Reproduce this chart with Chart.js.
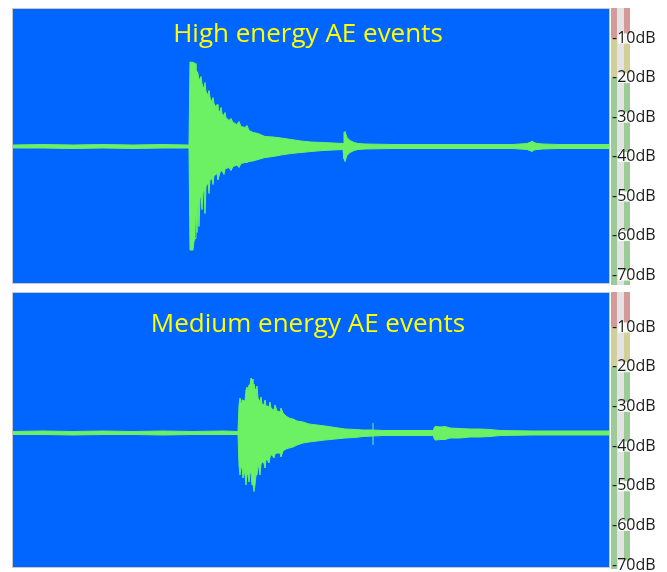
<!DOCTYPE html>
<html>
<head>
<meta charset="utf-8">
<script src="https://cdn.jsdelivr.net/npm/chart.js@4.4.0/dist/chart.umd.min.js"></script>
<style>
  html, body { margin: 0; padding: 0; background: #fff; }
  #wrap { position: relative; width: 667px; height: 572px; }
  #wrap canvas { position: absolute; left: 0; }
  #high { top: 0; }
  #medium { top: 288px; }
</style>
</head>
<body>
<div id="wrap">
  <canvas id="high" width="667" height="288"></canvas>
  <canvas id="medium" width="667" height="284"></canvas>
</div>
<script>
// 눈금 (dB)
const dbTicks = [-10, -20, -30, -40, -50, -60, -70];

// 고에너지 AE 이벤트: 시간(µs) / 포락선 최대값 / 최소값
const highT = [0, 30, 60, 90, 120, 150, 176, 177, 180, 181, 182, 183, 184, 185, 186, 187, 188, 189, 190, 191,
  192, 193, 195, 196, 197, 199, 200, 201, 203, 204, 205, 207, 208, 209, 211, 212, 213, 216, 218, 220,
  224, 226, 228, 232, 234, 236, 240, 245, 252, 260, 268, 278, 288, 298, 310, 320, 330, 331, 332, 334,
  337, 341, 345, 352, 380, 420, 460, 500, 507, 514, 518, 519, 521, 524, 530, 545, 570, 596];
const highMax = [1.5, 2, 1.5, 2, 1.5, 2, 1.5, 84.5, 84, 84, 83, 77, 75, 73, 66, 68, 70, 63, 60, 58,
  64, 55, 51, 56, 49, 44, 49, 43, 39, 42, 36, 35, 39, 33, 31, 34, 29, 26, 28, 24,
  22, 25, 20, 19, 21, 16, 14, 13, 10, 9.5, 8.5, 7, 5.5, 4.5, 4, 3.5, 3, 14, 15, 9,
  6, 4, 3, 2.5, 2, 2, 2, 2, 2.5, 3, 4.5, 5.5, 4, 3, 2.5, 2, 2, 2];
const highMin = [-1.5, -1.5, -2, -1.5, -2, -1.5, -1.5, -103.5, -103.5, -95, -92, -68, -86, -57, -80, -52, -48, -63, -46, -42,
  -67, -40, -36, -47, -34, -32, -38, -29, -28, -27, -33, -26, -25, -24, -28, -23, -22, -21, -24, -20,
  -18.5, -21, -17, -16, -16, -15, -14.5, -13, -11, -10, -8.5, -7, -6, -5, -4, -3.5, -3, -12, -15, -9,
  -6, -4, -3, -2.5, -2, -2, -2, -2, -2.5, -3, -4.5, -5, -3.5, -3, -2.5, -2, -2, -2];

// 중에너지 AE 이벤트
const medT = [0, 30, 60, 90, 120, 150, 180, 210, 225, 226, 227, 228, 229, 230, 231, 232, 233, 234, 235, 236,
  237, 238, 239, 240, 241, 242, 243, 244, 245, 246, 247, 248, 249, 251, 252, 253, 254, 256, 257, 258,
  259, 261, 262, 264, 267, 268, 270, 273, 276, 280, 284, 290, 296, 304, 312, 322, 332, 342, 350, 360,
  370, 400, 420, 422, 428, 432, 437, 447, 457, 467, 477, 487, 520, 560, 596];
const medMax = [1.5, 2, 1.5, 2, 1.5, 2, 1.5, 2, 1.5, 28, 35, 30, 33, 33, 32, 32, 43, 46, 42, 48,
  48, 55, 54, 46, 49, 44, 43, 47, 35, 33, 31, 36, 29, 28, 33, 27, 27, 26, 31, 25,
  24, 23, 28, 22, 21, 25, 20, 17, 15, 14, 12, 11, 9, 8, 7, 5.5, 4, 3.5, 3, 3,
  2.5, 2.5, 2.5, 6.5, 6, 6.5, 5, 4.5, 4, 4, 3.5, 2.5, 2, 2, 2];
const medMin = [-1.5, -1.5, -2, -1.5, -1.5, -2, -1.5, -1.5, -1.5, -32, -42, -33, -35, -45, -36, -42, -52, -40, -42, -49,
  -39, -40, -52, -50, -58.5, -52, -42, -42, -32, -35, -42, -31, -29, -30, -35, -27, -26, -30, -24, -22,
  -22, -25, -21, -20, -20, -24, -18, -16, -15, -14, -12, -10, -9, -8, -7, -6, -5, -4.5, -3.5, -3,
  -2.5, -2.5, -2.5, -7, -6.5, -6.5, -5, -5, -4, -4, -3.5, -2.5, -2, -2, -2];

// 짧은 클릭 신호 (중에너지 패널)
const medClickT = [360, 360];
const medClickV = [10, -12];

const BLUE = '#0066FF';
const GREEN = '#6CF064';

function pairs(t, v) {
  return t.map((x, i) => ({ x: x, y: v[i] }));
}

// 패널 배경, 레벨 미터 줄무늬, 제목
const panelPlugin = {
  id: 'panel',
  beforeDraw(chart) {
    const ctx = chart.ctx;
    const a = chart.chartArea;
    const db = chart.scales.db;
    ctx.save();
    ctx.fillStyle = BLUE;
    ctx.fillRect(a.left, a.top, a.right - a.left, a.bottom - a.top);
    ctx.strokeStyle = '#c8c8c8';
    ctx.lineWidth = 1;
    ctx.strokeRect(a.left - 0.5, a.top - 0.5, a.right - a.left + 1, a.bottom - a.top + 1);

    const top = a.top - 1, bottom = a.bottom + 2;
    ctx.fillStyle = '#e3e3e3';
    ctx.fillRect(a.right + 8, top, 7, bottom - top);
    const yRed = db.getPixelForValue(-10);
    const yYel = db.getPixelForValue(-20);
    [a.right + 2, a.right + 15].forEach(x => {
      ctx.fillStyle = '#d49a9a';
      ctx.fillRect(x, top, 6, yRed - top);
      ctx.fillStyle = '#d3cf98';
      ctx.fillRect(x, yRed, 6, yYel - yRed);
      ctx.fillStyle = '#9ccb98';
      ctx.fillRect(x, yYel, 6, bottom - yYel);
    });
    ctx.restore();
  },
  afterDatasetsDraw(chart, args, opts) {
    const ctx = chart.ctx;
    const a = chart.chartArea;
    ctx.save();
    ctx.fillStyle = '#FFFF00';
    ctx.font = '26px "Open Sans"';
    ctx.textAlign = 'center';
    ctx.textBaseline = 'alphabetic';
    ctx.fillText(opts.text, (a.left + a.right) / 2 - 3, a.top + opts.baseline);
    ctx.restore();
  }
};

function makeChart(id, t, vMax, vMin, extra, o) {
  const datasets = [{
    data: pairs(t, vMax),
    borderColor: GREEN,
    backgroundColor: GREEN,
    borderWidth: 1,
    pointRadius: 0,
    tension: 0,
    fill: '+1'
  }, {
    data: pairs(t, vMin),
    borderColor: GREEN,
    borderWidth: 1,
    pointRadius: 0,
    tension: 0,
    fill: false
  }].concat(extra);

  return new Chart(document.getElementById(id), {
    type: 'line',
    data: { datasets: datasets },
    plugins: [panelPlugin],
    options: {
      responsive: false,
      animation: false,
      events: [],
      layout: { padding: { left: 13, top: o.padTop, bottom: o.padBottom, right: 0 } },
      plugins: {
        legend: { display: false },
        tooltip: { enabled: false },
        panel: { text: o.title, baseline: o.baseline }
      },
      scales: {
        x: { type: 'linear', min: 0, max: 596, display: false },
        y: { type: 'linear', min: o.ampMin, max: o.ampMax, display: false },
        db: {
          type: 'linear',
          position: 'right',
          min: o.dbMin,
          max: o.dbMax,
          grid: { display: false, drawTicks: false },
          border: { display: false },
          afterBuildTicks: s => { s.ticks = dbTicks.map(v => ({ value: v })); },
          afterFit: s => { s.width = 58; s.paddingTop = 0; s.paddingBottom = 0; },
          ticks: {
            padding: 3,
            color: '#1a1a1a',
            font: { family: 'Open Sans', size: 16 },
            showLabelBackdrop: true,
            backdropColor: 'rgba(255,255,255,0.9)',
            backdropPadding: { top: -5, bottom: -4, left: -6, right: 0 },
            callback: v => v + 'dB'
          }
        }
      }
    }
  });
}

makeChart('high', highT, highMax, highMin, [], {
  title: 'High energy AE events', baseline: 33,
  padTop: 9, padBottom: 5,
  ampMin: -136.5, ampMax: 137.5,
  dbMin: -72.03, dbMax: -2.66
});

makeChart('medium', medT, medMax, medMin, [{
  data: pairs(medClickT, medClickV),
  borderColor: '#3FB8C8',
  borderWidth: 1,
  pointRadius: 0,
  fill: false
}], {
  title: 'Medium energy AE events', baseline: 39,
  padTop: 5, padBottom: 5,
  ampMin: -134, ampMax: 140,
  dbMin: -70.5, dbMax: -1.43
});
</script>
</body>
</html>
